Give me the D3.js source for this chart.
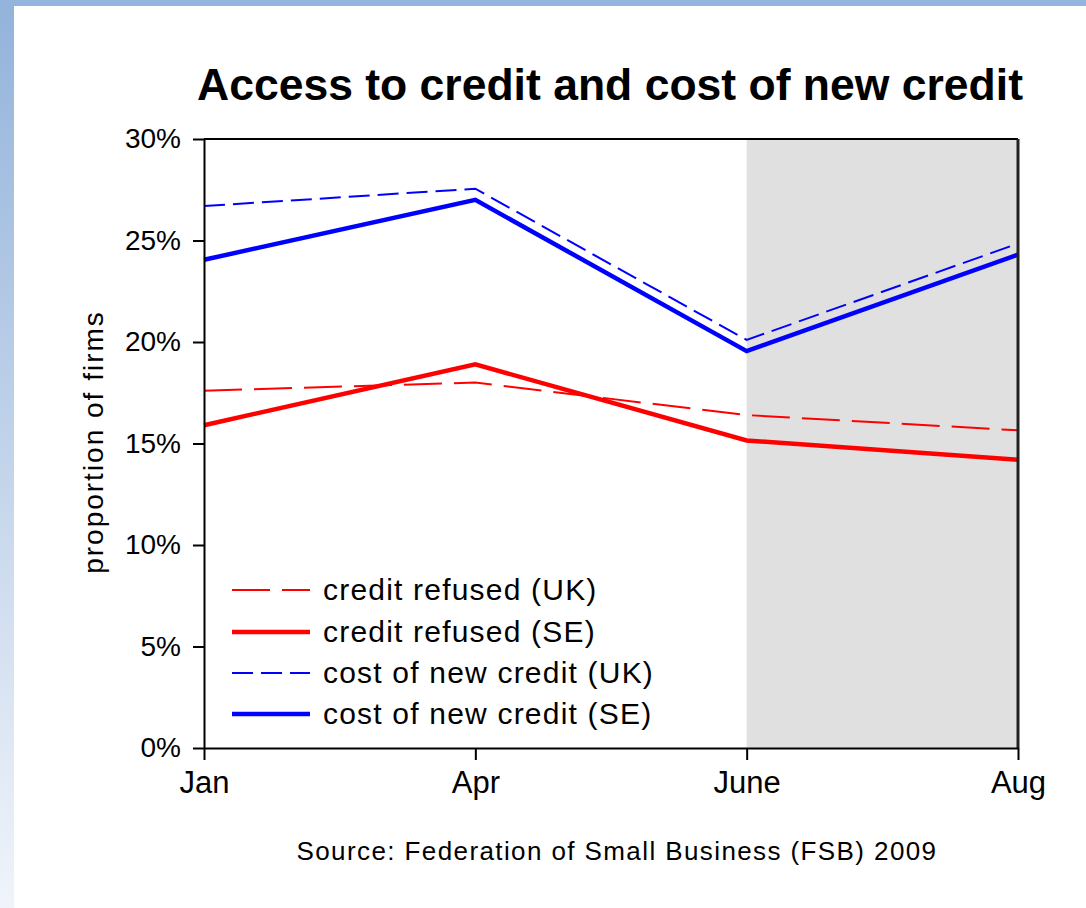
<!DOCTYPE html>
<html>
<head>
<meta charset="utf-8">
<script src="https://cdn.jsdelivr.net/npm/d3@7"></script>
<style>
  html, body { margin: 0; padding: 0; background: #fff; }
  svg { display: block; }
  text { font-family: "Liberation Sans", Arial, sans-serif; fill: #000; }
</style>
</head>
<body>
<svg id="chart" width="1086" height="908"></svg>
<script>
const months = ["Jan", "Apr", "June", "Aug"];
const creditRefusedUK = [17.6, 18.0, 16.4, 15.65];
const creditRefusedSE = [15.9, 18.9, 15.15, 14.2];
const costNewCreditUK = [26.7, 27.55, 20.1, 24.85];
const costNewCreditSE = [24.05, 27.0, 19.55, 24.3];
const yTicks = [0, 5, 10, 15, 20, 25, 30];
const shadedFrom = "June";
const shadedTo = "Aug";

const series = [
  { name: "credit refused (UK)", values: creditRefusedUK, color: "#ff0000", width: 2, dash: "38,12" },
  { name: "credit refused (SE)", values: creditRefusedSE, color: "#ff0000", width: 4.5, dash: null },
  { name: "cost of new credit (UK)", values: costNewCreditUK, color: "#0000ff", width: 2, dash: "21,8" },
  { name: "cost of new credit (SE)", values: costNewCreditSE, color: "#0000ff", width: 4.5, dash: null }
];

const svg = d3.select("#chart");
const W = 1086, H = 908;

// background decoration
const defs = svg.append("defs");
const grad = defs.append("linearGradient").attr("id", "strip").attr("x1", 0).attr("y1", 0).attr("x2", 0).attr("y2", 1);
grad.append("stop").attr("offset", "0%").attr("stop-color", "#93b3db");
grad.append("stop").attr("offset", "100%").attr("stop-color", "#f0f4fa");
svg.append("rect").attr("x", 0).attr("y", 0).attr("width", 14).attr("height", H).attr("fill", "url(#strip)");
svg.append("rect").attr("x", 0).attr("y", 0).attr("width", W).attr("height", 6).attr("fill", "#93b5dd");

const pLeft = 204, pRight = 1018, pTop = 139, pBottom = 748;
const x = d3.scalePoint().domain(months).range([pLeft, pRight]);
const y = d3.scaleLinear().domain([0, 30]).range([pBottom, pTop]);

// shaded area
svg.append("rect")
  .attr("x", x(shadedFrom)).attr("y", y(30))
  .attr("width", x(shadedTo) - x(shadedFrom)).attr("height", y(0) - y(30))
  .attr("fill", "#e0e0e0");

// lines
const line = d3.line().x((d, i) => x(months[i])).y(d => y(d));
series.forEach(s => {
  svg.append("path")
    .datum(s.values)
    .attr("d", line)
    .attr("fill", "none")
    .attr("stroke", s.color)
    .attr("stroke-width", s.width)
    .attr("stroke-dasharray", s.dash)
    .attr("stroke-linejoin", "miter");
});

// frame
svg.append("line").attr("x1", pLeft).attr("x2", pRight).attr("y1", pTop).attr("y2", pTop).attr("stroke", "#000").attr("stroke-width", 2);
svg.append("line").attr("x1", pRight).attr("x2", pRight).attr("y1", pTop).attr("y2", pBottom).attr("stroke", "#222").attr("stroke-width", 3);

// y axis
const yAxis = d3.axisLeft(y).tickValues(yTicks).tickFormat(d => d + "%").tickSizeOuter(0).tickSizeInner(11).tickPadding(12);
const gy = svg.append("g").attr("transform", `translate(${pLeft},0)`).call(yAxis);
gy.select(".domain").attr("stroke-width", 2);
gy.selectAll(".tick line").attr("stroke-width", 2);
gy.selectAll(".tick text").attr("font-size", 28).attr("font-family", "Liberation Sans, Arial, sans-serif");

// x axis
const xAxis = d3.axisBottom(x).tickSizeOuter(0).tickSizeInner(12).tickPadding(11);
const gx = svg.append("g").attr("transform", `translate(0,${pBottom})`).call(xAxis);
gx.select(".domain").attr("stroke-width", 2);
gx.selectAll(".tick line").attr("stroke-width", 2);
gx.selectAll(".tick text").attr("font-size", 31).attr("font-family", "Liberation Sans, Arial, sans-serif");

// title
svg.append("text").attr("x", 610).attr("y", 100).attr("text-anchor", "middle")
  .attr("font-size", 44.5).attr("font-weight", "bold").text("Access to credit and cost of new credit");

// y label
svg.append("text").attr("transform", "translate(103,442) rotate(-90)").attr("text-anchor", "middle")
  .attr("font-size", 28).attr("letter-spacing", 2).text("proportion of firms");

// source
svg.append("text").attr("x", 617).attr("y", 860).attr("text-anchor", "middle")
  .attr("font-size", 26).attr("letter-spacing", 1.4).text("Source: Federation of Small Business (FSB) 2009");

// legend
const legY = [590, 632, 673, 714];
series.forEach((s, i) => {
  svg.append("line").attr("x1", 232).attr("x2", 310).attr("y1", legY[i]).attr("y2", legY[i])
    .attr("stroke", s.color).attr("stroke-width", s.width).attr("stroke-dasharray", s.dash);
  svg.append("text").attr("x", 323).attr("y", legY[i] + 10).attr("font-size", 30)
    .attr("letter-spacing", 1.2).text(s.name);
});
</script>
</body>
</html>
